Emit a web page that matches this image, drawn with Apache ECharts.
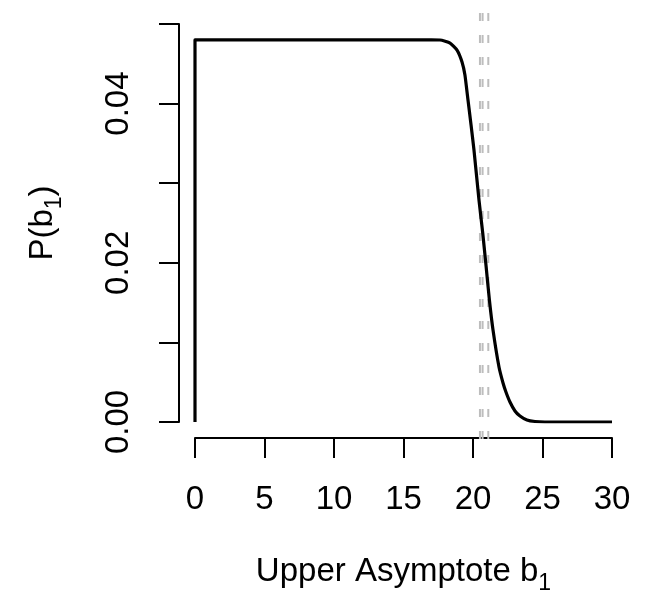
<!DOCTYPE html>
<html>
<head>
<meta charset="utf-8">
<script src="https://cdn.jsdelivr.net/npm/echarts@6/dist/echarts.min.js"></script>
<style>
html,body{margin:0;padding:0;background:#fff;}
#chart{width:648px;height:596px;}
</style>
</head>
<body>
<div id="chart"></div>
<script>
// Density curve P(b1)
var xVals = [0, 0, 5, 10, 15, 17, 17.63, 18.35, 18.85, 19.21, 19.42, 19.64, 19.86, 20.07, 20.43, 20.70, 20.94, 21.18, 21.44, 21.87, 22.16, 22.37, 22.66, 23.02, 23.38, 23.88, 24.46, 25.18, 30];
var yVals = [0, 0.0480, 0.0480, 0.0480, 0.0480, 0.0480, 0.04799, 0.04761, 0.04673, 0.04523, 0.04359, 0.04045, 0.03731, 0.03417, 0.02789, 0.02374, 0.0196, 0.01533, 0.01156, 0.00691, 0.0049, 0.00377, 0.00251, 0.00138, 0.00075, 0.00025, 0.00006, 0, 0];
// Vertical reference lines (gray dashed)
var refLines = [20.50, 20.69, 21.10];
var refYRange = [-0.00214, 0.0517];
// Axis ticks
var xTicks = [0, 5, 10, 15, 20, 25, 30];
var yTicks = [0, 0.01, 0.02, 0.03, 0.04, 0.05];
var yLabelShown = ['0.00', '', '0.02', '', '0.04', ''];

var FONT = 'Liberation Sans';
var FS = 33;
var chart = echarts.init(document.getElementById('chart'));

var curve = xVals.map(function (x, i) { return [x, yVals[i]]; });
var series = [{
  type: 'line',
  data: curve,
  showSymbol: false,
  smooth: 0.15,
  lineStyle: {color: '#000', width: 3.2, join: 'round'},
  itemStyle: {color: '#000'},
  z: 3,
  animation: false
}];
refLines.forEach(function (x) {
  series.push({
    type: 'line',
    data: [[x, refYRange[0]], [x, refYRange[1]]],
    showSymbol: false,
    clip: false,
    lineStyle: {color: '#bdbdbd', width: 2, type: [8, 14]},
    z: 2,
    animation: false
  });
});

var richSub = {s: {fontFamily: FONT, fontSize: 23, lineHeight: 24, verticalAlign: 'bottom', color: '#000'}};

chart.setOption({
  backgroundColor: '#fff',
  animation: false,
  grid: {left: 195, right: 36, top: 24, bottom: 174, containLabel: false, outerBoundsMode: 'none'},
  xAxis: {
    type: 'value', min: xTicks[0], max: xTicks[xTicks.length - 1], interval: 5,
    offset: 16,
    axisLine: {show: true, onZero: false, lineStyle: {color: '#000', width: 2}},
    axisTick: {show: true, length: 20, lineStyle: {color: '#000', width: 2}},
    splitLine: {show: false},
    axisLabel: {color: '#000', fontFamily: FONT, fontSize: FS, margin: 45},
    name: 'Upper Asymptote b{s|1}',
    nameLocation: 'middle',
    nameGap: 134,
    nameTextStyle: {
      color: '#000', fontFamily: FONT, fontSize: FS, lineHeight: 46, verticalAlign: 'middle',
      rich: richSub
    }
  },
  yAxis: {
    type: 'value', min: yTicks[0], max: yTicks[yTicks.length - 1], interval: 0.01,
    offset: 16,
    axisLine: {show: true, onZero: false, lineStyle: {color: '#000', width: 2}},
    axisTick: {show: true, length: 20, lineStyle: {color: '#000', width: 2}},
    splitLine: {show: false},
    axisLabel: {
      color: '#000', fontFamily: FONT, fontSize: FS, margin: 44, rotate: 90,
      formatter: function (v) {
        var idx = Math.round(v / 0.01);
        return yLabelShown[idx] || '';
      }
    },
    name: 'P(b{s|1})',
    nameLocation: 'middle',
    nameGap: 136,
    nameTextStyle: {
      color: '#000', fontFamily: FONT, fontSize: FS, lineHeight: 46, verticalAlign: 'middle',
      rich: richSub
    }
  },
  series: series
});
</script>
</body>
</html>
